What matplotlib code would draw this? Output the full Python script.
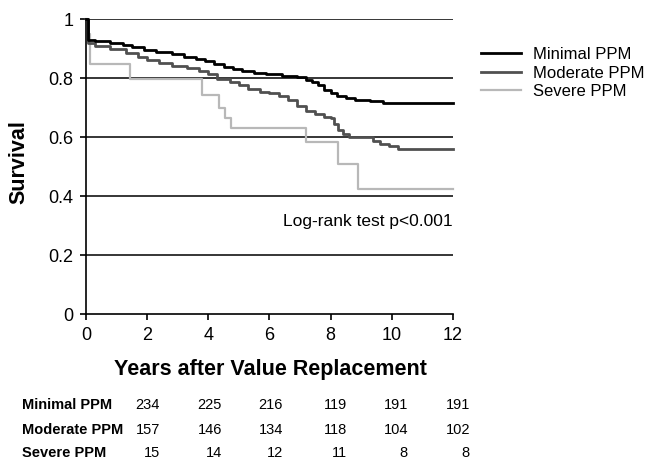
import matplotlib.pyplot as plt

plt.rcParams['font.family'] = ['Liberation Sans', 'DejaVu Sans']

# Kaplan-Meier step points (time in years, survival)
minimal_t = [0, 0.05, 0.3, 0.8, 1.2, 1.5, 1.9, 2.3, 2.8, 3.2, 3.6, 3.9, 4.2, 4.5,
             4.8, 5.1, 5.5, 5.9, 6.4, 6.9, 7.2, 7.4, 7.6, 7.8, 8.0, 8.2, 8.5, 8.8,
             9.3, 9.7, 12]
minimal_s = [1, 0.93, 0.925, 0.92, 0.912, 0.905, 0.895, 0.887, 0.88, 0.872, 0.865,
             0.858, 0.848, 0.838, 0.83, 0.824, 0.818, 0.813, 0.808, 0.802, 0.795,
             0.785, 0.775, 0.76, 0.748, 0.74, 0.733, 0.725, 0.722, 0.717, 0.717]

moderate_t = [0, 0.05, 0.3, 0.8, 1.3, 1.7, 2.0, 2.4, 2.8, 3.3, 3.7, 4.0, 4.3, 4.7,
              5.0, 5.3, 5.7, 6.0, 6.3, 6.6, 6.9, 7.2, 7.5, 7.8, 8.0, 8.1, 8.25, 8.4,
              8.6, 9.4, 9.6, 9.9, 10.2, 12]
moderate_s = [1, 0.92, 0.91, 0.897, 0.885, 0.872, 0.86, 0.85, 0.842, 0.835, 0.825,
              0.815, 0.798, 0.785, 0.775, 0.762, 0.752, 0.748, 0.74, 0.725, 0.705,
              0.69, 0.678, 0.668, 0.663, 0.645, 0.625, 0.612, 0.601, 0.585, 0.576,
              0.57, 0.558, 0.558]

severe_t = [0, 0.05, 0.12, 1.45, 3.8, 4.35, 4.55, 4.75, 7.2, 8.25, 8.9, 12]
severe_s = [1, 0.95, 0.846, 0.797, 0.742, 0.70, 0.665, 0.63, 0.584, 0.51, 0.424, 0.424]

# numbers at risk
risk_labels = ['Minimal PPM', 'Moderate PPM', 'Severe PPM']
risk_minimal = [234, 225, 216, 119, 191, 191]
risk_moderate = [157, 146, 134, 118, 104, 102]
risk_severe = [15, 14, 12, 11, 8, 8]

fig = plt.figure(figsize=(6.46, 4.63), dpi=100)
ax = fig.add_axes([0.1331, 0.3218, 0.568, 0.637])

for y in [0.2, 0.4, 0.6, 0.8, 1.0]:
    ax.axhline(y, color='black', lw=1.1, zorder=1)

ax.step(minimal_t, minimal_s, where='post', color='black', lw=2, label='Minimal PPM', zorder=4, clip_on=False)
ax.step(moderate_t, moderate_s, where='post', color='#505050', lw=2, label='Moderate PPM', zorder=3, clip_on=False)
ax.step(severe_t, severe_s, where='post', color='#b8b8b8', lw=1.6, label='Severe PPM', zorder=2, clip_on=False)

ax.set_xlim(0, 12)
ax.set_ylim(0, 1)
ax.set_xticks(range(0, 13, 2))
ax.set_yticks([0, 0.2, 0.4, 0.6, 0.8, 1])
ax.set_yticklabels(['0', '0.2', '0.4', '0.6', '0.8', '1'])
ax.tick_params(labelsize=13, length=4, width=1.2, direction='out', pad=5)
for s in ['top', 'right']:
    ax.spines[s].set_visible(False)
for s in ['left', 'bottom']:
    ax.spines[s].set_linewidth(1.2)

ax.text(12, 0.312, 'Log-rank test p<0.001', ha='right', va='center', fontsize=12.5)

fig.legend(loc='upper left', bbox_to_anchor=(0.722, 0.931), frameon=False,
           fontsize=12, handlelength=2.4, handletextpad=0.7, labelspacing=0.22)

fig.text(18.5 / 646, 1 - 162 / 463, 'Survival', rotation=90, ha='center', va='center',
         fontsize=15.5, fontweight='bold')
fig.text(270 / 646, 1 - 370 / 463, 'Years after Value Replacement', ha='center', va='center',
         fontsize=15.5, fontweight='bold')

row_y = [405, 430, 453]
col_x = [160, 222, 283, 347, 408, 470]
for lab, vals, py in zip(risk_labels, [risk_minimal, risk_moderate, risk_severe], row_y):
    fig.text(22 / 646, 1 - py / 463, lab, ha='left', va='center', fontsize=10.5,
             fontweight='bold')
    for v, px in zip(vals, col_x):
        fig.text(px / 646, 1 - py / 463, str(v), ha='right', va='center', fontsize=10.5)

fig.savefig('out.png', dpi=100)
